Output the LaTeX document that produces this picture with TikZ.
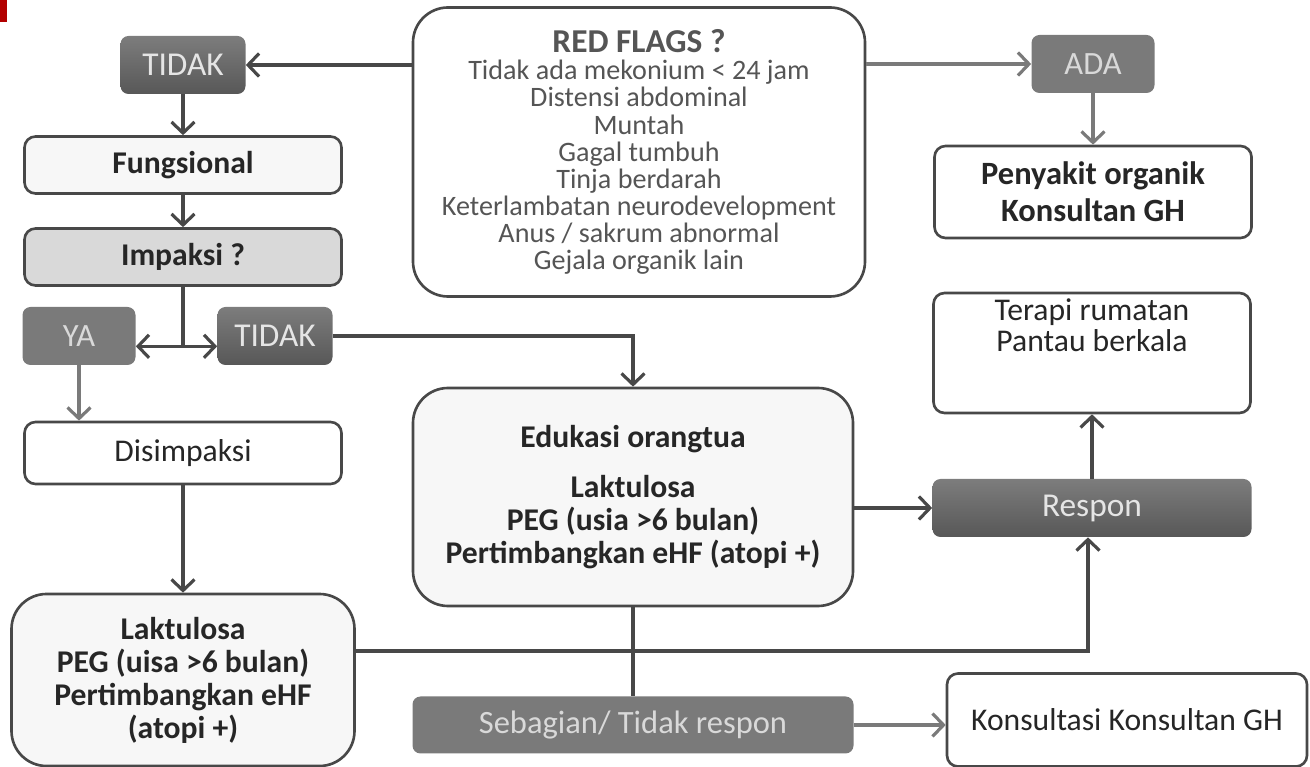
\documentclass[tikz,border=0pt]{standalone}
\usepackage{fontspec}
\setmainfont{Carlito}
\usepackage{tikz}
\usetikzlibrary{shapes.geometric, arrows.meta}
\definecolor{GRL}{HTML}{484848}
\definecolor{GRA}{HTML}{7A7A7A}
\definecolor{GRD}{HTML}{5C5C5C}
\definecolor{GRM}{HTML}{7A7A7A}
\definecolor{GRB}{HTML}{D9D9D9}
\definecolor{GRP}{HTML}{F7F7F7}
\definecolor{GRT}{HTML}{555555}
\tikzstyle{process} = [rectangle, rounded corners=0.22cm, minimum width=6.34cm, minimum height=1.14cm, align=center, draw=GRL, line width=1.5pt, fill=white, text=black!85, font=\fontsize{18}{19}\selectfont]
\tikzstyle{bigbox} = [rectangle, rounded corners=0.7cm, align=center, draw=GRL, line width=1.5pt, fill=GRP, text=black!85, font=\fontsize{18}{18.8}\selectfont\bfseries]
\tikzstyle{darkbox} = [rectangle, rounded corners=0.16cm, minimum width=2.5cm, minimum height=1.16cm, text centered, top color=GRD!80, bottom color=GRD!95!black, draw=none, text=white!90!black, font=\fontsize{19}{19}\selectfont]
\tikzstyle{graybox} = [rectangle, rounded corners=0.16cm, minimum width=2.3cm, minimum height=1.16cm, text centered, fill=GRM, draw=none, text=white!85!black, font=\fontsize{18.5}{19}\selectfont]
\tikzstyle{arrow} = [line width=1.8pt, draw=GRL, ->, >={Straight Barb[length=2.2mm, width=4.6mm]}]
\tikzstyle{garrow} = [arrow, draw=GRA]
\tikzstyle{line} = [line width=1.8pt, draw=GRL]

\begin{document}
\begin{tikzpicture}[node distance=2cm]
\useasboundingbox (0,0) rectangle (26.2,-15.34);
\fill[red!70!black] (0,0) rectangle (0.14,-0.44);

% left column
\node (tidakA) [darkbox] at (3.66,-1.3) {TIDAK};
\node (fungsional) [process, fill=GRP, font=\fontsize{18}{19}\selectfont\bfseries, below of=tidakA] {Fungsional};
\node (impaksi) [process, fill=GRB, font=\fontsize{18}{19}\selectfont\bfseries, below of=fungsional, yshift=0.16cm] {Impaksi ?};
\node (ya) [graybox, minimum width=2.26cm, below of=impaksi, xshift=-2.08cm, yshift=0.42cm] {YA};
\node (tidakB) [darkbox, minimum width=2.3cm, below of=impaksi, xshift=1.84cm, yshift=0.42cm] {TIDAK};
\node (disimpaksi) [process, minimum height=1.24cm, below of=impaksi, yshift=-1.92cm] {Disimpaksi};
\node (laktulosa) [bigbox, minimum width=6.86cm, minimum height=3.44cm, below of=disimpaksi, yshift=-2.54cm] {Laktulosa\\PEG (uisa >6 bulan)\\Pertimbangkan eHF\\(atopi +)};

% middle
\node (flags) [bigbox, fill=white, text=GRT, font=\fontsize{16}{15.4}\selectfont, minimum width=9.04cm, minimum height=5.78cm, right of=tidakA, xshift=7.12cm, yshift=-1.74cm] {{\fontsize{19}{19}\selectfont\bfseries RED FLAGS ?}\\Tidak ada mekonium < 24 jam\\Distensi abdominal\\Muntah\\Gagal tumbuh\\Tinja berdarah\\Keterlambatan neurodevelopment\\Anus / sakrum abnormal\\Gejala organik lain};
\node (edukasi) [bigbox, minimum width=8.8cm, minimum height=4.36cm, below of=flags, xshift=-0.12cm, yshift=-4.9cm] {Edukasi orangtua\\[0.34cm]Laktulosa\\PEG (usia >6 bulan)\\Pertimbangkan eHF (atopi +)};
\node (sebagian) [graybox, minimum width=8.82cm, minimum height=1.14cm, below of=edukasi, yshift=-2.56cm] {Sebagian/ Tidak respon};

% right column
\node (ada) [graybox, minimum width=2.46cm, right of=flags, xshift=7.08cm, yshift=1.76cm] {ADA};
\node (organik) [process, minimum height=1.84cm, font=\fontsize{18.5}{21}\selectfont\bfseries, below of=ada, yshift=-0.56cm] {Penyakit organik\\Konsultan GH};
\node (respon) [darkbox, minimum width=6.38cm, right of=edukasi, xshift=7.18cm, yshift=-0.22cm] {Respon};
\node (terapi) [process, minimum height=1.82cm, font=\fontsize{18}{17.5}\selectfont, above of=respon, yshift=1.1cm] {Terapi rumatan\\Pantau berkala\\[0.5cm]};
\node (konsultasi) [process, minimum width=7.2cm, minimum height=1.86cm, right of=sebagian, xshift=7.88cm, yshift=0.1cm] {Konsultasi Konsultan GH};

% connectors
\draw [arrow] (flags.west |- tidakA.east) -- (tidakA.east);
\draw [garrow] (flags.east |- ada.west) -- (ada.west);
\draw [garrow] (ada) -- (organik);
\draw [arrow] (tidakA) -- (fungsional);
\draw [arrow] (fungsional) -- (impaksi);
\path (impaksi.south) ++(0,-1.19) coordinate (split);
\draw [line] (impaksi.south) -- (split);
\draw [arrow] (split) -- (split -| ya.east);
\draw [arrow] (split) -- (split -| tidakB.west);
\draw [garrow] (ya.south) -- (ya.south |- disimpaksi.north);
\draw [arrow] (disimpaksi) -- (laktulosa);
\draw [arrow] (tidakB.east) -| (edukasi.north);
\draw [arrow] (edukasi.east |- respon.west) -- (respon.west);
\draw [arrow] (respon.north) -- (terapi.south);
\draw [arrow] ([yshift=0.58cm]laktulosa.east) -| ([xshift=-0.08cm]respon.south);
\draw [line] (edukasi.south) -- (sebagian.north);
\draw [garrow] (sebagian.east) -- (sebagian.east -| konsultasi.west);

\end{tikzpicture}
\end{document}
